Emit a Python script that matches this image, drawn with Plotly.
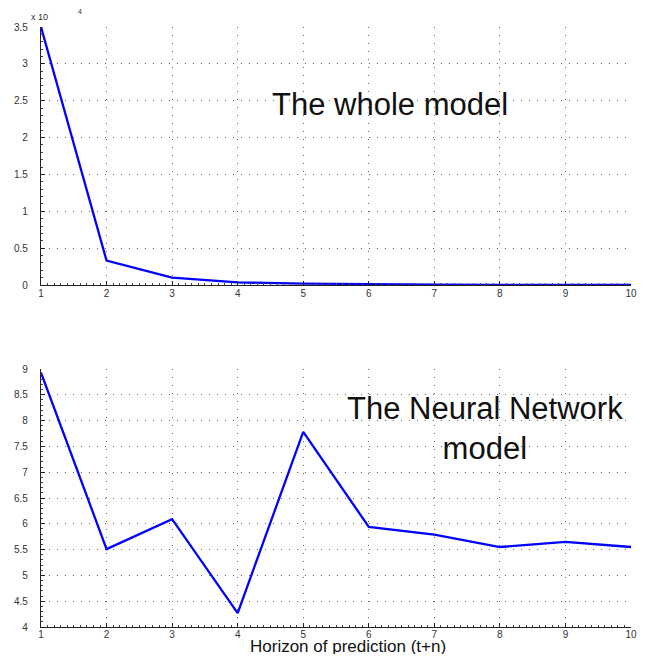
"""Prediction error versus horizon: whole model and neural network model."""

import plotly.graph_objects as go

horizon = [1, 2, 3, 4, 5, 6, 7, 8, 9, 10]
whole_model = [35000, 3300, 1000, 350, 200, 100, 60, 30, 25, 20]
neural_network = [8.93, 5.51, 6.09, 4.27, 7.78, 5.94, 5.79, 5.55, 5.65, 5.55]

# the page body adds an 8px margin, so the figure is drawn a bit smaller
OFF = 8
W, H = 649 - 2 * OFF, 662 - 2 * OFF


def px(x):
    return (x - OFF) / W


def py(y):
    return 1 - (y - OFF) / H


x_dom = [px(41), px(631)]
top_dom = [py(285), py(27)]
bot_dom = [py(627), py(369)]

tick_font = dict(family="Liberation Sans, Arial, sans-serif", size=10, color="#333")
axis_common = dict(
    showline=True, linecolor="#222", linewidth=1.2, mirror=False,
    ticks="inside", ticklen=4, tickcolor="#222", tickfont=tick_font,
    showgrid=True, gridcolor="#666", gridwidth=1, griddash="1px,7px",
    zeroline=False, automargin=False,
)
minor = dict(dtick=0.1, ticks="inside", ticklen=2, tickcolor="#444")

fig = go.Figure()
fig.add_trace(go.Scatter(x=horizon, y=[v / 1e4 for v in whole_model], mode="lines",
                         line=dict(color="#0000ff", width=2.3), xaxis="x", yaxis="y", showlegend=False))
fig.add_trace(go.Scatter(x=horizon, y=neural_network, mode="lines",
                         line=dict(color="#0000ff", width=2.3), xaxis="x2", yaxis="y2", showlegend=False))

fig.update_layout(
    width=W, height=H, margin=dict(l=0, r=0, t=0, b=0, autoexpand=False),
    paper_bgcolor="white", plot_bgcolor="white",
    xaxis=dict(axis_common, domain=x_dom, range=[1, 10], dtick=1, anchor="y", minor=minor,
               ticklabelstandoff=-1),
    yaxis=dict(axis_common, domain=top_dom, range=[0, 3.5], dtick=0.5, anchor="x",
               ticklabelstandoff=10, minor=minor),
    xaxis2=dict(axis_common, domain=x_dom, range=[1, 10], dtick=1, anchor="y2", minor=minor,
                ticklabelstandoff=-2),
    yaxis2=dict(axis_common, domain=bot_dom, range=[4, 9], dtick=0.5, anchor="x2",
                ticklabelstandoff=10, minor=minor),
    font=dict(family="Liberation Sans, Arial, sans-serif", color="#111"),
)

big = dict(family="Liberation Sans, Arial, sans-serif", size=31, color="#111")
fig.add_annotation(x=px(390), y=py(105), xref="paper", yref="paper", text="The whole model",
                   showarrow=False, xanchor="center", yanchor="middle", font=big)
fig.add_annotation(x=px(485), y=py(428), xref="paper", yref="paper",
                   text="The Neural Network<br>model", showarrow=False,
                   xanchor="center", yanchor="middle", font=big)
fig.add_annotation(x=px(348), y=py(657), xref="paper", yref="paper",
                   text="Horizon of prediction (t+n)", showarrow=False,
                   xanchor="center", yanchor="bottom", borderpad=0,
                   font=dict(family="Liberation Sans, Arial, sans-serif", size=17, color="#111"))
fig.add_annotation(x=px(29), y=py(17), xref="paper", yref="paper", text="x 10",
                   showarrow=False, xanchor="left", yanchor="middle",
                   font=dict(family="Liberation Sans, Arial, sans-serif", size=9, color="#333"))
fig.add_annotation(x=px(76), y=py(12), xref="paper", yref="paper", text="4",
                   showarrow=False, xanchor="left", yanchor="middle",
                   font=dict(family="Liberation Sans, Arial, sans-serif", size=7, color="#333"))

fig.write_html("out.html")
